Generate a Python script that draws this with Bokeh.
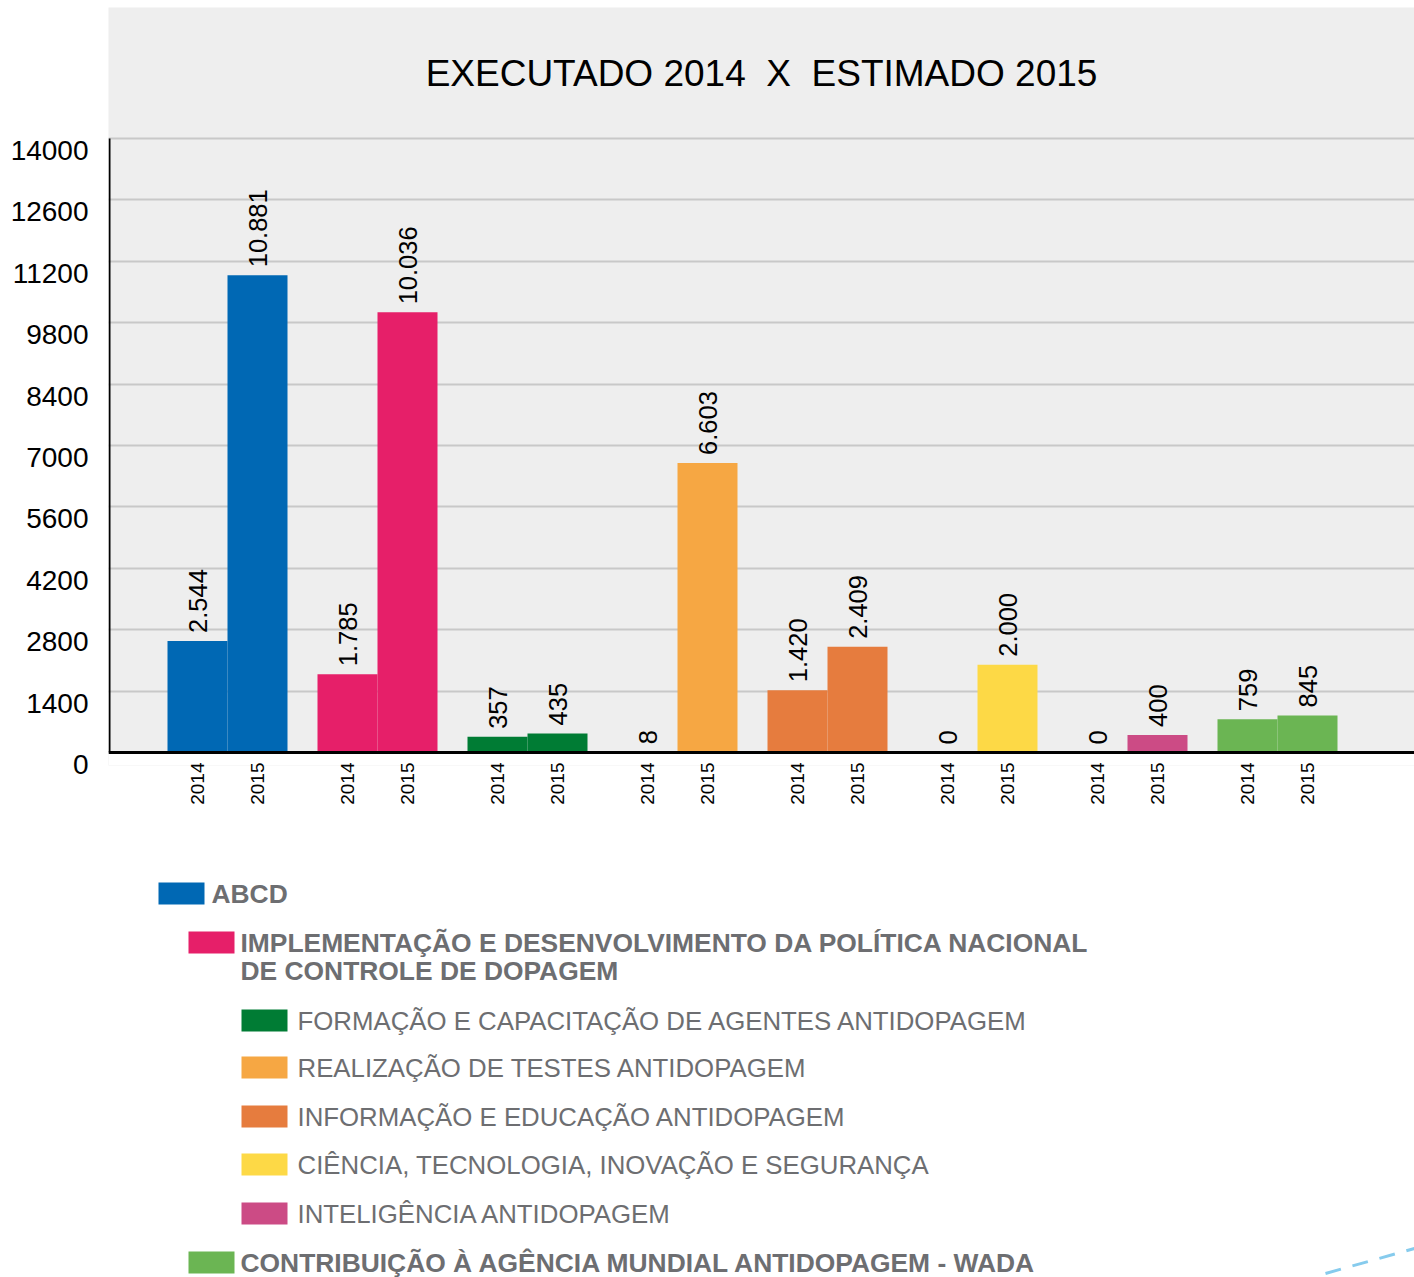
import math
from bokeh.plotting import figure
from bokeh.models import Range1d, FixedTicker, Span, BoxAnnotation, Label, ColumnDataSource
from bokeh.layouts import column
from bokeh.embed import file_html
from bokeh.resources import INLINE
from bokeh.core.properties import value

# ---------------- data ----------------
categories = [
    "ABCD",
    "IMPLEMENTAÇÃO E DESENVOLVIMENTO DA POLÍTICA NACIONAL DE CONTROLE DE DOPAGEM",
    "FORMAÇÃO E CAPACITAÇÃO DE AGENTES ANTIDOPAGEM",
    "REALIZAÇÃO DE TESTES ANTIDOPAGEM",
    "INFORMAÇÃO E EDUCAÇÃO ANTIDOPAGEM",
    "CIÊNCIA, TECNOLOGIA, INOVAÇÃO E SEGURANÇA",
    "INTELIGÊNCIA ANTIDOPAGEM",
    "CONTRIBUIÇÃO À AGÊNCIA MUNDIAL ANTIDOPAGEM - WADA",
]
values_2014 = [2544, 1785, 357, 8, 1420, 0, 0, 759]
values_2015 = [10881, 10036, 435, 6603, 2409, 2000, 400, 845]
years = ["2014", "2015"]
y_ticks = [0, 1400, 2800, 4200, 5600, 7000, 8400, 9800, 11200, 12600, 14000]
title_text = "EXECUTADO 2014\u00a0 X \u00a0ESTIMADO 2015"
legend_lines = [
    ["ABCD"],
    ["IMPLEMENTAÇÃO E DESENVOLVIMENTO DA POLÍTICA NACIONAL", "DE CONTROLE DE DOPAGEM"],
    ["FORMAÇÃO E CAPACITAÇÃO DE AGENTES ANTIDOPAGEM"],
    ["REALIZAÇÃO DE TESTES ANTIDOPAGEM"],
    ["INFORMAÇÃO E EDUCAÇÃO ANTIDOPAGEM"],
    ["CIÊNCIA, TECNOLOGIA, INOVAÇÃO E SEGURANÇA"],
    ["INTELIGÊNCIA ANTIDOPAGEM"],
    ["CONTRIBUIÇÃO À AGÊNCIA MUNDIAL ANTIDOPAGEM - WADA"],
]
legend_bold = [True, True, False, False, False, False, False, True]

# ---------------- styles ----------------
colors = ["#0068b4", "#e61f69", "#007c34", "#f6a743", "#e67c3e", "#fdd946", "#cc4b85", "#6bb553"]
FONT = "Liberation Sans"
LEGEND_TEXT = "#6d6e71"

# ---------------- layout (figure pixels) ----------------
W = 1414
H1 = 820
H2 = 1277 - H1
FRAME_LEFT = 108
FRAME_TOP = 7
FRAME_BOTTOM = 765
ZERO_Y = 752          # pixel row of value 0
TOP_Y = 138           # pixel row of value 14000
TITLE_Y = 73
FIRST_BAR_PX = 89     # first bar centre, px from frame left
PX_PER_X = 30.0
GROUP_STEP = 5
BAR_W = 2

px_per_y = (ZERO_Y - TOP_Y) / y_ticks[-1]
x_start = -FIRST_BAR_PX / PX_PER_X
x_end = x_start + (W - FRAME_LEFT) / PX_PER_X
y_start = -(FRAME_BOTTOM - ZERO_Y) / px_per_y
y_end = y_ticks[-1] + (TOP_Y - FRAME_TOP) / px_per_y
LABEL_SHIFT = round(12 / px_per_y)

n = len(categories)
x2014 = [i * GROUP_STEP for i in range(n)]
x2015 = [x + BAR_W for x in x2014]


def fmt(v):
    return f"{v:,}".replace(",", ".")


p = figure(width=W, height=H1,
           x_range=Range1d(x_start, x_end), y_range=Range1d(y_start, y_end),
           output_backend="svg", toolbar_location=None,
           min_border_left=FRAME_LEFT, min_border_right=0,
           min_border_top=FRAME_TOP, min_border_bottom=H1 - FRAME_BOTTOM)
p.background_fill_color = "#eeeeee"
p.border_fill_color = "white"
p.outline_line_color = None

p.xgrid.visible = False
p.ygrid.ticker = FixedTicker(ticks=y_ticks[1:])
p.ygrid.grid_line_color = "#c8c8c8"
p.ygrid.grid_line_width = 2

# y axis: labels sit a little below their gridlines, as in the original
yax = p.yaxis[0]
yax.ticker = FixedTicker(ticks=[t - LABEL_SHIFT for t in y_ticks])
yax.major_label_overrides = {t - LABEL_SHIFT: str(t) for t in y_ticks}
yax.axis_line_color = None
yax.major_tick_line_color = None
yax.minor_tick_line_color = None
yax.major_tick_in = 0
yax.major_tick_out = 0
yax.major_label_standoff = 20
yax.major_label_text_font = FONT
yax.major_label_text_font_size = "28px"
yax.major_label_text_color = "black"

xax = p.xaxis[0]
xax.ticker = FixedTicker(ticks=x2014 + x2015)
ov = {x: years[0] for x in x2014}
ov.update({x: years[1] for x in x2015})
xax.major_label_overrides = ov
xax.major_label_orientation = math.pi / 2
xax.axis_line_color = None
xax.major_tick_line_color = None
xax.minor_tick_line_color = None
xax.major_tick_in = 0
xax.major_tick_out = 0
xax.major_label_standoff = -3
xax.major_label_text_font = FONT
xax.major_label_text_font_size = "19px"
xax.major_label_text_color = "black"

# white area below the zero line (drawn beneath glyphs and axis labels)
p.add_layout(BoxAnnotation(top=0, fill_color="white", fill_alpha=1, line_color=None,
                           level="underlay"))
# vertical axis line
p.add_layout(BoxAnnotation(left=x_start, right=x_start + 2 / PX_PER_X, bottom=0, top=y_ticks[-1],
                           fill_color="black", fill_alpha=1, line_color=None))
p.add_layout(Span(location=0, dimension="width", line_color="black", line_width=3))

src14 = ColumnDataSource(dict(x=x2014, top=values_2014, color=colors,
                              label=[fmt(v) for v in values_2014]))
src15 = ColumnDataSource(dict(x=x2015, top=values_2015, color=colors,
                              label=[fmt(v) for v in values_2015]))
for src in (src14, src15):
    p.vbar(x="x", top="top", width=BAR_W, fill_color="color", line_color=None, source=src)
    p.text(x="x", y="top", text="label", angle=math.pi / 2, text_align="left",
           text_baseline="middle", y_offset=-8, text_font=value(FONT),
           text_font_size="25.5px", text_color="black", source=src)

p.add_layout(Label(x=(x_start + x_end) / 2, y=(ZERO_Y - TITLE_Y) / px_per_y, text=title_text,
                   text_align="center", text_baseline="middle", text_font=FONT,
                   text_font_size="37px", text_color="black"))

# ---------------- legend (separate pixel-space figure) ----------------
p2 = figure(width=W, height=H2, x_range=Range1d(FRAME_LEFT, W), y_range=Range1d(H2, 0),
            output_backend="svg", toolbar_location=None,
            min_border_left=FRAME_LEFT, min_border_right=0, min_border_top=0, min_border_bottom=0,
            x_axis_type=None, y_axis_type=None)
p2.outline_line_color = None
p2.grid.visible = False
p2.background_fill_color = "white"
p2.border_fill_color = "white"

sw_left = [158, 188, 241, 241, 241, 241, 241, 188]
row_y = [73, 122, 200, 247, 296, 344, 393, 442]
text_gap = [7, 6, 10, 10, 10, 10, 10, 6]
SW_W, SW_H = 46, 22
LINE_H = 28

p2.quad(left=sw_left, right=[l + SW_W for l in sw_left],
        top=[y - SW_H / 2 for y in row_y], bottom=[y + SW_H / 2 for y in row_y],
        fill_color=colors, line_color=None)

for i, lines in enumerate(legend_lines):
    for j, line in enumerate(lines):
        p2.text(x=[sw_left[i] + SW_W + text_gap[i]], y=[row_y[i] + j * LINE_H], text=[line],
                text_align="left", text_baseline="middle", text_font=value(FONT),
                text_font_size="26.4px" if legend_bold[i] else "25.8px",
                text_font_style="bold" if legend_bold[i] else "normal",
                text_color=LEGEND_TEXT)

p2.segment(x0=[1325], y0=[453], x1=[1414], y1=[428], line_color="#86cbed",
           line_width=3, line_dash="16 12")

layout = column(p, p2, spacing=0)
open("out.html", "w").write(file_html(layout, INLINE))
